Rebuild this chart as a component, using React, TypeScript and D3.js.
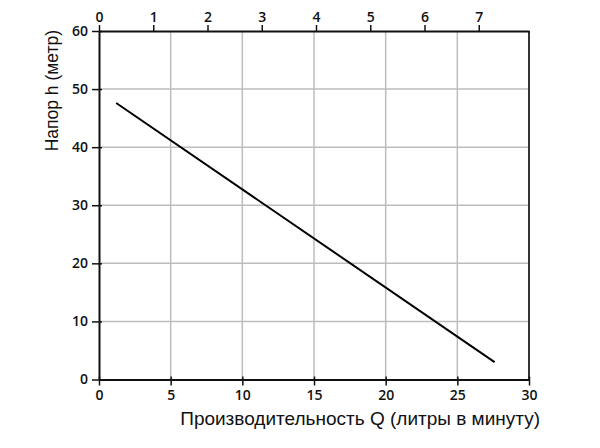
import React, { useEffect, useRef } from "react";
import * as d3 from "d3";

// Pump curve: flow (L/min) against head (m)
const flowLpm: number[] = [1.2, 27.6];
const headM: number[] = [47.6, 3.0];

const flowTicks: number[] = [0, 5, 10, 15, 20, 25, 30];
const headTicks: number[] = [0, 10, 20, 30, 40, 50, 60];
const gpmTicks: number[] = [0, 1, 2, 3, 4, 5, 6, 7];

const LITRES_PER_GALLON = 3.785;

const xTitle = "Производительность Q (литры в минуту)";
const yTitle = "Напор h (метр)";

const W = 600;
const H = 448;
const margin = { left: 99, right: 71, top: 31, bottom: 68.5 };

export default function App() {
  const ref = useRef<SVGSVGElement | null>(null);

  useEffect(() => {
    const svg = d3.select(ref.current);
    svg.selectAll("*").remove();

    const x = d3.scaleLinear().domain([0, 30]).range([margin.left, W - margin.right]);
    const y = d3.scaleLinear().domain([0, 60]).range([H - margin.bottom, margin.top]);
    const xG = d3
      .scaleLinear()
      .domain([0, 30 / LITRES_PER_GALLON])
      .range([margin.left, W - margin.right]);

    const tickFont = "'Open Sans', 'DejaVu Sans', sans-serif";
    const titleFont = "'Liberation Sans', Arial, sans-serif";

    // grid
    const grid = svg.append("g").attr("stroke", "#bdbdbd").attr("stroke-width", 1.5);
    flowTicks
      .filter((t) => t > 0 && t < 30)
      .forEach((t) => {
        grid
          .append("line")
          .attr("x1", x(t))
          .attr("x2", x(t))
          .attr("y1", y(0))
          .attr("y2", y(60));
      });
    headTicks
      .filter((t) => t > 0 && t < 60)
      .forEach((t) => {
        grid
          .append("line")
          .attr("x1", x(0))
          .attr("x2", x(30))
          .attr("y1", y(t))
          .attr("y2", y(t));
      });

    // frame (right side)
    svg
      .append("line")
      .attr("x1", x(30))
      .attr("x2", x(30))
      .attr("y1", y(0))
      .attr("y2", y(60))
      .attr("stroke", "#333")
      .attr("stroke-width", 2);

    const styleAxis = (g: d3.Selection<SVGGElement, unknown, null, undefined>) => {
      g.select(".domain").attr("stroke", "#111").attr("stroke-width", 2);
      g.selectAll(".tick line").attr("stroke", "#111").attr("stroke-width", 1.5);
      g.selectAll(".tick text")
        .attr("fill", "#111")
        .style("font-family", tickFont)
        .style("font-size", "14px")
        .style("font-weight", 600);
    };

    // bottom axis
    const gx = svg
      .append("g")
      .attr("transform", `translate(0,${y(0)})`)
      .call(d3.axisBottom(x).tickValues(flowTicks).tickSize(6).tickSizeOuter(0).tickPadding(5));
    styleAxis(gx);
    gx.selectAll(".tick line").attr("y1", -3);

    // top axis (US gallons per minute)
    const gt = svg
      .append("g")
      .attr("transform", `translate(0,${y(60)})`)
      .call(d3.axisTop(xG).tickValues(gpmTicks).tickSize(6).tickSizeOuter(0).tickPadding(3));
    styleAxis(gt);

    // left axis
    const gy = svg
      .append("g")
      .attr("transform", `translate(${x(0)},0)`)
      .call(d3.axisLeft(y).tickValues(headTicks).tickSize(7).tickSizeOuter(0).tickPadding(4));
    styleAxis(gy);
    gy.selectAll(".tick line").attr("x1", 3);

    // curve
    const pts = flowLpm.map((q, i) => [q, headM[i]] as [number, number]);
    svg
      .append("path")
      .datum(pts)
      .attr("fill", "none")
      .attr("stroke", "#000")
      .attr("stroke-width", 2)
      .attr(
        "d",
        d3
          .line<[number, number]>()
          .x((d) => x(d[0]))
          .y((d) => y(d[1]))
      );

    // titles
    svg
      .append("text")
      .attr("x", 540)
      .attr("y", 425)
      .attr("text-anchor", "end")
      .style("font-family", titleFont)
      .style("font-size", "19px")
      .attr("fill", "#111")
      .text(xTitle);

    svg
      .append("text")
      .attr("transform", `translate(58,30) rotate(-90)`)
      .attr("text-anchor", "end")
      .style("font-family", titleFont)
      .style("font-size", "17.5px")
      .attr("fill", "#111")
      .text(yTitle);
  }, []);

  return (
    <svg
      ref={ref}
      width={W}
      height={H}
      style={{ display: "block", position: "absolute", left: 0, top: 0, background: "#fff" }}
    />
  );
}
